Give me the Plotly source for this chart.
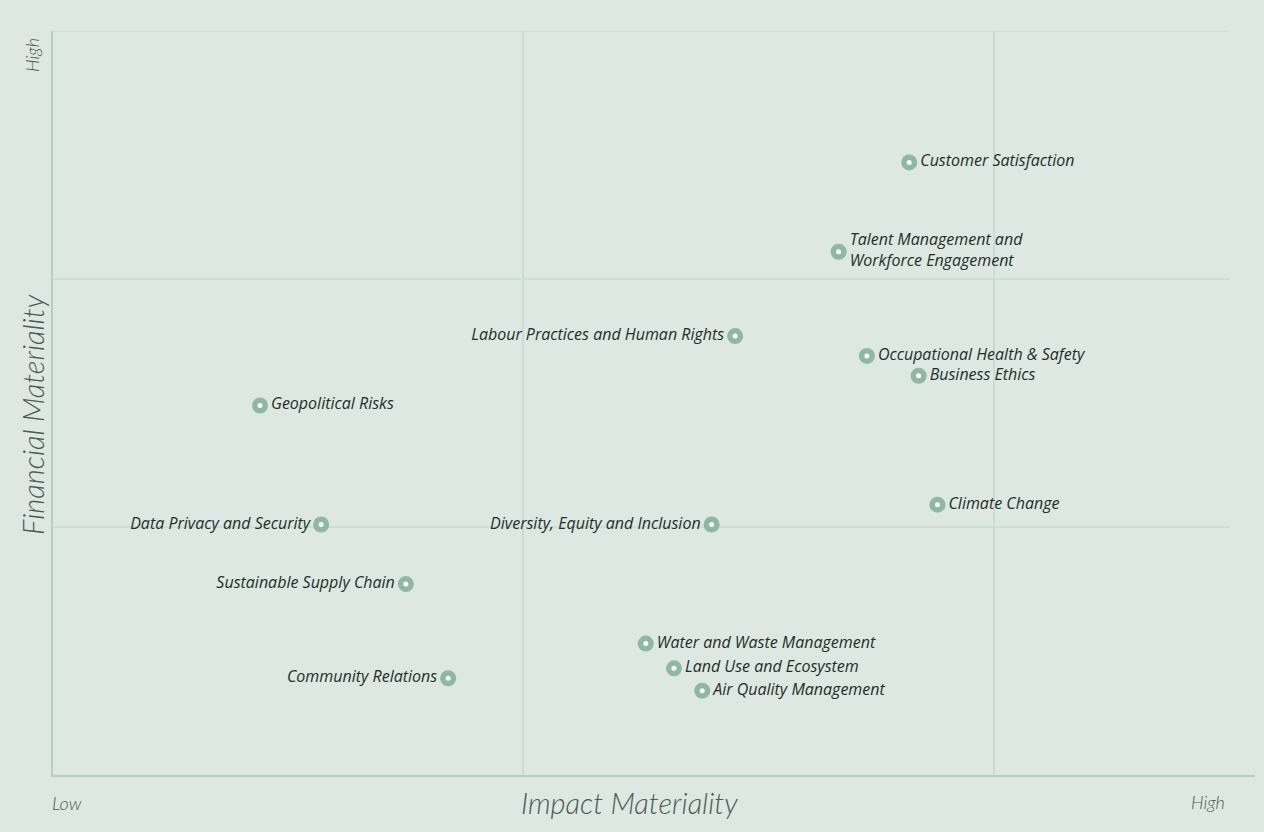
import plotly.graph_objects as go

# materiality topics (impact score, financial score)
topics = [
    "Customer Satisfaction",
    "Talent Management and<br>Workforce Engagement",
    "Labour Practices and Human Rights",
    "Occupational Health & Safety",
    "Business Ethics",
    "Geopolitical Risks",
    "Climate Change",
    "Data Privacy and Security",
    "Diversity, Equity and Inclusion",
    "Sustainable Supply Chain",
    "Water and Waste Management",
    "Land Use and Ecosystem",
    "Air Quality Management",
    "Community Relations",
]
impact = [1.82, 1.67, 1.45, 1.73, 1.84, 0.44, 1.88, 0.57, 1.40, 0.75, 1.26, 1.32, 1.38, 0.84]
financial = [2.47, 2.11, 1.77, 1.69, 1.61, 1.49, 1.09, 1.01, 1.01, 0.77, 0.53, 0.43, 0.34, 0.39]
label_side = ["right", "right", "left", "right", "right", "right", "right",
              "left", "left", "left", "right", "right", "right", "left"]

BG = "#dce8e1"
GRID = "#c9ddd3"
AXIS = "#b4cfc2"
DOT = "#8fb8a4"
INK = "#222f29"
MUTED = "#4d5a54"

fig = go.Figure()
fig.add_trace(go.Scatter(
    x=impact, y=financial, mode="markers+text",
    text=topics, textposition=["middle " + s for s in label_side],
    textfont=dict(family="Open Sans", size=16, color=INK, style="italic"),
    marker=dict(size=16, color=DOT),
    hoverinfo="text", showlegend=False,
))
fig.add_trace(go.Scatter(
    x=impact, y=financial, mode="markers",
    marker=dict(size=5, color="white"),
    hoverinfo="skip", showlegend=False,
))

# horizontal grid lines stop short of the axis end
for level in [1, 2, 3]:
    fig.add_shape(type="line", x0=0, x1=2.5, y0=level, y1=level,
                  line=dict(color=GRID, width=1.5), layer="below")

fig.update_xaxes(range=[0, 2.555], tickvals=[1, 2], showticklabels=False, showgrid=True,
                 gridcolor=GRID, gridwidth=1.5, zeroline=False,
                 showline=True, linecolor=AXIS, linewidth=2, fixedrange=True)
fig.update_yaxes(range=[0, 3], showticklabels=False, showgrid=False, zeroline=False,
                 showline=True, linecolor=AXIS, linewidth=2, fixedrange=True)

title_font = dict(family="Lato", size=29, color=MUTED, style="italic", weight=300)
end_font = dict(family="Lato", size=18, color=MUTED, style="italic", weight=300)

fig.add_annotation(text="Impact Materiality", x=0.48, y=-0.0363, xref="paper", yref="paper",
                   xanchor="center", yanchor="middle", showarrow=False, font=title_font)
fig.add_annotation(text="Financial Materiality", x=-0.0166, y=0.484, xref="paper", yref="paper",
                   xanchor="center", yanchor="middle", textangle=-90, showarrow=False, font=title_font)
fig.add_annotation(text="Low", x=-0.0025, y=-0.0376, xref="paper", yref="paper",
                   xanchor="left", yanchor="middle", showarrow=False, font=end_font)
fig.add_annotation(text="High", x=0.9767, y=-0.0363, xref="paper", yref="paper",
                   xanchor="right", yanchor="middle", showarrow=False, font=end_font)
fig.add_annotation(text="High", x=-0.0175, y=0.9677, xref="paper", yref="paper",
                   xanchor="center", yanchor="middle", textangle=-90, showarrow=False, font=end_font)

fig.update_layout(
    paper_bgcolor=BG, plot_bgcolor=BG,
    margin=dict(l=53, r=9, t=31, b=57),
    hovermode="closest",
)

# drop the page's default body margin so the chart fills the window
fix_page = (
    "document.body.style.margin='0';"
    "document.body.style.background='" + BG + "';"
    "var gd=document.getElementById('{plot_id}');"
    "gd.style.width='100vw';gd.style.height='100vh';"
    "Plotly.Plots.resize(gd);"
)
fig.write_html("out.html", post_script=fix_page, config={"displayModeBar": False})
